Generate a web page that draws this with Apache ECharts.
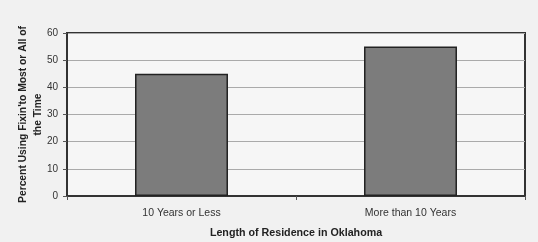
<!DOCTYPE html>
<html><head><meta charset="utf-8">
<script src="https://cdn.jsdelivr.net/npm/echarts@6/dist/echarts.min.js"></script>
<style>html,body{margin:0;padding:0;background:#f1f1f1;}#c{width:538px;height:242px;}</style>
</head><body><div id="c"></div>
<script>
const categories = ['10 Years or Less', 'More than 10 Years'];
const values = [45, 55];
const yTicks = [0, 10, 20, 30, 40, 50, 60];

const chart = echarts.init(document.getElementById('c'), null, {renderer: 'canvas'});
chart.setOption({
  backgroundColor: '#f1f1f1',
  animation: false,
  grid: {left: 67, right: 13, top: 33, bottom: 46, containLabel: false, outerBoundsMode: 'none',
    show: true, backgroundColor: '#f6f6f6', borderColor: '#333', borderWidth: 2},
  xAxis: {
    type: 'category', data: categories,
    name: 'Length of Residence in Oklahoma', nameLocation: 'middle', nameGap: 32, nameMoveOverlap: false,
    nameTextStyle: {fontFamily: 'Liberation Sans', fontSize: 10.7, fontWeight: 'bold', color: '#222'},
    axisLine: {lineStyle: {color: '#333', width: 2}},
    axisTick: {show: true, length: 4, lineStyle: {color: '#555'}},
    axisLabel: {fontFamily: 'Liberation Sans', fontSize: 10.5, color: '#333', margin: 12}
  },
  yAxis: {
    type: 'value', min: yTicks[0], max: yTicks[yTicks.length - 1], interval: 10,
    name: "Percent Using Fixin'to Most or All of\nthe Time", nameLocation: 'middle', nameGap: 21, nameMoveOverlap: false,
    nameTextStyle: {fontFamily: 'Liberation Sans', fontSize: 10.3, fontWeight: 'bold', color: '#222', lineHeight: 15},
    axisLine: {show: true, lineStyle: {color: '#333', width: 2}},
    axisTick: {show: true, length: 4, lineStyle: {color: '#555'}},
    axisLabel: {fontFamily: 'Liberation Sans', fontSize: 10, color: '#333', margin: 9},
    splitLine: {lineStyle: {color: '#aaa', width: 1}}
  },
  series: [{
    type: 'bar', data: values, barWidth: '40.6%',
    itemStyle: {color: '#7c7c7c', borderColor: '#222', borderWidth: 1.5}
  }]
});
</script></body></html>
